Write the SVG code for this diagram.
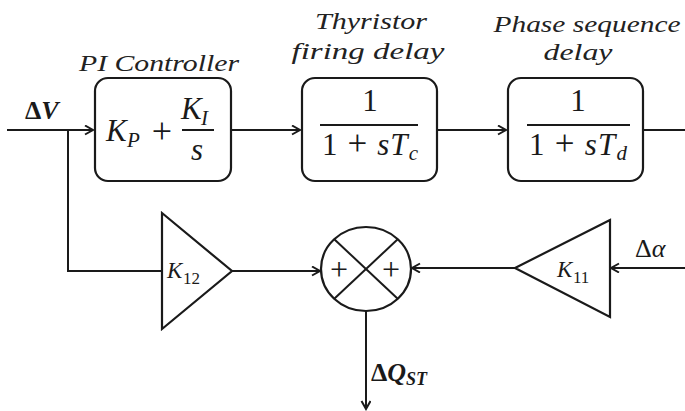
<svg xmlns="http://www.w3.org/2000/svg" width="685" height="411" viewBox="0 0 685 411">
<style>
.ln{fill:none;stroke:#1a1a1a;stroke-width:2}
.box{fill:#fff;stroke:#1a1a1a;stroke-width:2.2}
.lbl{font-family:"Liberation Serif","Times New Roman",serif;font-style:italic;font-size:23px;fill:#222}
.m{font-family:"Liberation Serif","Times New Roman",serif;font-size:31px;fill:#1a1a1a}
.k{font-family:"Liberation Serif","Times New Roman",serif;font-size:23px;fill:#1a1a1a}
.i{font-style:italic}
.b{font-weight:bold}
</style>
<defs>
<marker id="arr" markerUnits="userSpaceOnUse" markerWidth="12" markerHeight="12" refX="9" refY="5" orient="auto">
<path d="M1,0.5 L9,5 L1,9.5" fill="none" stroke="#1a1a1a" stroke-width="2"/>
</marker>
</defs>
<g id="connectors">
<line class="ln" x1="7" y1="130" x2="93" y2="130" marker-end="url(#arr)"/>
<polyline class="ln" points="68,130 68,271 162,271"/>
<line class="ln" x1="231" y1="130" x2="300" y2="130" marker-end="url(#arr)"/>
<line class="ln" x1="437" y1="130" x2="506" y2="130" marker-end="url(#arr)"/>
<line class="ln" x1="643" y1="130" x2="685" y2="130"/>
<line class="ln" x1="232" y1="271" x2="320" y2="271" marker-end="url(#arr)"/>
<line class="ln" x1="515" y1="268" x2="412" y2="268" marker-end="url(#arr)"/>
<line class="ln" x1="685" y1="268" x2="611" y2="268" marker-end="url(#arr)"/>
<line class="ln" x1="366" y1="311" x2="366" y2="409" marker-end="url(#arr)"/>
</g>
<g id="input-dV">
<text x="25" y="119" class="k b" style="font-size:26px">Δ<tspan class="i">V</tspan></text>
</g>
<g id="pi-controller">
<text x="79" y="71" class="lbl" textLength="160" lengthAdjust="spacingAndGlyphs">PI Controller</text>
<rect class="box" x="95" y="78" width="136" height="103" rx="13"/>
<text x="106" y="141" class="m i">K</text>
<text x="127" y="147" class="m i" style="font-size:21px">P</text>
<text x="162" y="143" class="m" text-anchor="middle" style="font-size:36px">+</text>
<text x="181" y="119" class="m i">K</text>
<text x="201" y="125" class="m i" style="font-size:21px">I</text>
<line class="ln" x1="182" y1="130" x2="214" y2="130"/>
<text x="197" y="160" class="m i" text-anchor="middle">s</text>
</g>
<g id="thyristor-delay">
<text x="371" y="29" class="lbl" text-anchor="middle" textLength="112" lengthAdjust="spacingAndGlyphs">Thyristor</text>
<text x="368" y="59" class="lbl" text-anchor="middle" textLength="153" lengthAdjust="spacingAndGlyphs">firing delay</text>
<rect class="box" x="302" y="78" width="135" height="103" rx="13"/>
<text x="370" y="111" class="m" text-anchor="middle">1</text>
<line class="ln" x1="320" y1="125" x2="418" y2="125"/>
<text x="370" y="155" class="m" text-anchor="middle" textLength="96" lengthAdjust="spacing">1 <tspan style="font-size:35px">+</tspan> <tspan class="i">sT</tspan><tspan class="i" style="font-size:21px" dy="5">c</tspan></text>
</g>
<g id="phase-delay">
<text x="587" y="32" class="lbl" text-anchor="middle" textLength="187" lengthAdjust="spacingAndGlyphs">Phase sequence</text>
<text x="578" y="60" class="lbl" text-anchor="middle" textLength="69" lengthAdjust="spacingAndGlyphs">delay</text>
<rect class="box" x="508" y="78" width="135" height="103" rx="13"/>
<text x="578" y="111" class="m" text-anchor="middle">1</text>
<line class="ln" x1="527" y1="125" x2="630" y2="125"/>
<text x="578" y="155" class="m" text-anchor="middle" textLength="98" lengthAdjust="spacing">1 <tspan style="font-size:35px">+</tspan> <tspan class="i">sT</tspan><tspan class="i" style="font-size:21px" dy="5">d</tspan></text>
</g>
<g id="gain-K12">
<polygon class="box" points="162,213 232,271 162,329"/>
<text x="167" y="278" class="k i">K</text>
<text x="183" y="284" class="k" style="font-size:17px">12</text>
</g>
<g id="summing-junction">
<ellipse class="box" cx="366" cy="269" rx="45" ry="42"/>
<line class="ln" x1="334" y1="239" x2="398" y2="299"/>
<line class="ln" x1="398" y1="239" x2="334" y2="299"/>
<text x="339" y="280" class="k" text-anchor="middle" style="font-size:32px">+</text>
<text x="391" y="280" class="k" text-anchor="middle" style="font-size:32px">+</text>
</g>
<g id="gain-K11">
<polygon class="box" points="610,220 515,268 610,317"/>
<text x="557" y="277" class="k i">K</text>
<text x="573" y="283" class="k" style="font-size:17px">11</text>
</g>
<g id="input-dalpha">
<text x="635" y="257" class="k" style="font-size:26px">Δ<tspan class="i">α</tspan></text>
</g>
<g id="output-dQ">
<text x="371" y="381" class="k b" style="font-size:26px">Δ<tspan class="i">Q</tspan><tspan class="i" style="font-size:18px" dy="4">ST</tspan></text>
</g>
</svg>
